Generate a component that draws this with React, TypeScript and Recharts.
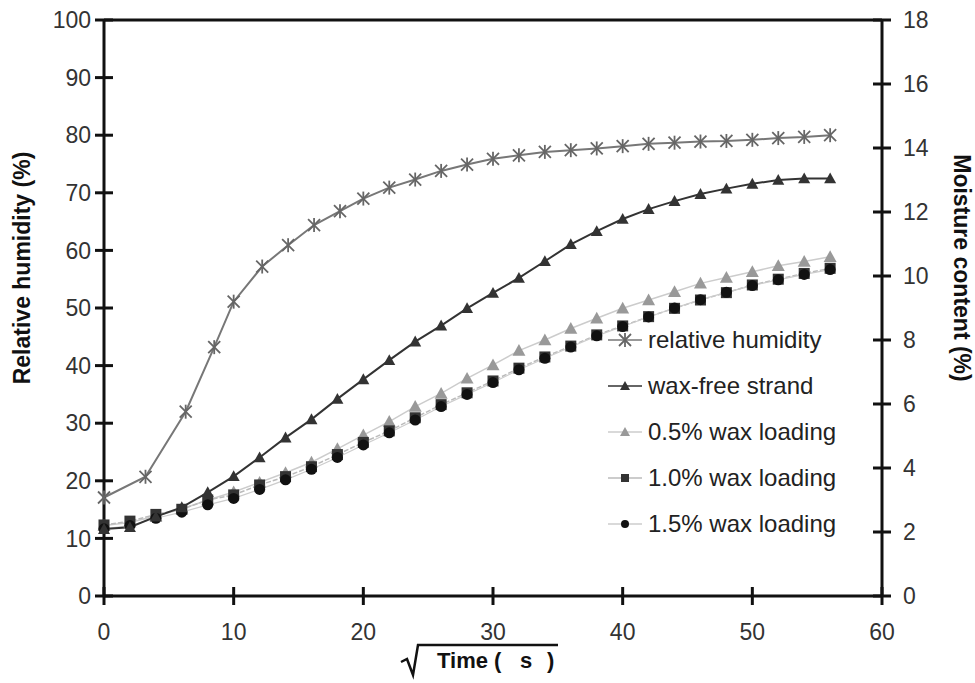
import { LineChart, Line, XAxis, YAxis, Legend, ReferenceLine } from "recharts"

// sqrt(time) for the humidity readings and for the moisture readings
const rhTime = [0, 3.2, 6.3, 8.5, 10, 12.2, 14.2, 16.2, 18.2, 20, 22, 24, 26, 28, 30, 32, 34, 36, 38, 40, 42, 44, 46, 48, 50, 52, 54, 56]
const rhValues = [17.1, 20.7, 32.0, 43.2, 51.1, 57.2, 60.9, 64.4, 66.8, 69.0, 70.9, 72.3, 73.8, 74.9, 75.9, 76.5, 77.1, 77.4, 77.7, 78.1, 78.5, 78.7, 78.9, 79.0, 79.2, 79.5, 79.7, 80.0]

const mcTime = [0, 2, 4, 6, 8, 10, 12, 14, 16, 18, 20, 22, 24, 26, 28, 30, 32, 34, 36, 38, 40, 42, 44, 46, 48, 50, 52, 54, 56]
const waxFree = [2.09, 2.15, 2.48, 2.77, 3.24, 3.74, 4.33, 4.95, 5.52, 6.16, 6.77, 7.37, 7.95, 8.45, 8.99, 9.47, 9.94, 10.46, 10.99, 11.4, 11.78, 12.09, 12.34, 12.56, 12.73, 12.88, 13.0, 13.05, 13.05]
const wax05 = [2.2, 2.3, 2.5, 2.72, 3.0, 3.25, 3.55, 3.85, 4.18, 4.6, 5.03, 5.45, 5.92, 6.33, 6.8, 7.22, 7.67, 8.0, 8.36, 8.68, 8.99, 9.25, 9.51, 9.77, 9.95, 10.13, 10.32, 10.45, 10.6]
const wax10 = [2.22, 2.34, 2.55, 2.71, 3.0, 3.16, 3.47, 3.73, 4.04, 4.42, 4.8, 5.16, 5.57, 5.98, 6.35, 6.72, 7.12, 7.47, 7.81, 8.16, 8.44, 8.73, 8.99, 9.25, 9.48, 9.72, 9.9, 10.08, 10.24]
const wax15 = [2.1, 2.2, 2.43, 2.62, 2.85, 3.05, 3.33, 3.63, 3.96, 4.33, 4.72, 5.1, 5.5, 5.92, 6.3, 6.67, 7.07, 7.43, 7.78, 8.13, 8.42, 8.72, 9.0, 9.26, 9.49, 9.7, 9.88, 10.05, 10.2]

const xTicks = [0, 10, 20, 30, 40, 50, 60]
const rhTicks = [0, 10, 20, 30, 40, 50, 60, 70, 80, 90, 100]
const mcTicks = [0, 2, 4, 6, 8, 10, 12, 14, 16, 18]

const rhData = rhTime.map((t, i) => ({ t, rh: rhValues[i] }))
const mcData = mcTime.map((t, i) => ({ t, waxFree: waxFree[i], wax05: wax05[i], wax10: wax10[i], wax15: wax15[i] }))

const FONT = "'Liberation Sans', Arial, sans-serif"
const AXIS = "#111"
const TS = 9
const TM = 6

const star = (cx: number, cy: number, key?: any) => (
  <g key={key} stroke="#666" strokeWidth={1.8}>
    <line x1={cx - 6} y1={cy - 6} x2={cx + 6} y2={cy + 6} />
    <line x1={cx - 6} y1={cy + 6} x2={cx + 6} y2={cy - 6} />
    <line x1={cx} y1={cy - 7} x2={cx} y2={cy + 7} />
  </g>
)
const tri = (cx: number, cy: number, fill: string, r: number, key?: any) => (
  <polygon key={key} points={`${cx},${cy - r} ${cx - r},${cy + r * 0.8} ${cx + r},${cy + r * 0.8}`} fill={fill} />
)
const square = (cx: number, cy: number, key?: any) => (
  <rect key={key} x={cx - 5.5} y={cy - 5.5} width={11} height={11} fill="#333" />
)
const circle = (cx: number, cy: number, key?: any) => <circle key={key} cx={cx} cy={cy} r={5.5} fill="#111" />

const legendRows = [
  { name: "relative humidity", line: "#777", mark: (x: number, y: number) => star(x, y) },
  { name: "wax-free strand", line: "#333", mark: (x: number, y: number) => tri(x, y, "#333", 5) },
  { name: "0.5% wax loading", line: "#ccc", mark: (x: number, y: number) => tri(x, y, "#999", 5) },
  { name: "1.0% wax loading", line: "#bbb", mark: (x: number, y: number) => <rect x={x - 4} y={y - 4} width={8} height={8} fill="#333" /> },
  { name: "1.5% wax loading", line: "#ccc", mark: (x: number, y: number) => <circle cx={x} cy={y} r={4} fill="#111" /> },
]

function LegendBox() {
  return (
    <div style={{ fontFamily: FONT }}>
      {legendRows.map((r) => (
        <div key={r.name} style={{ height: 46, display: "flex", alignItems: "center" }}>
          <svg width={44} height={20}>
            <line x1={4} x2={38} y1={10} y2={10} stroke={r.line} strokeWidth={1.5} />
            {r.mark(21, 10)}
          </svg>
          <span style={{ fontSize: 24, color: "#222", whiteSpace: "nowrap" }}>{r.name}</span>
        </div>
      ))}
    </div>
  )
}

function LeftTick({ x, y, payload }: any) {
  const ax = x + TS + TM
  return (
    <g>
      <line x1={ax - 9} x2={ax + 9} y1={y} y2={y} stroke={AXIS} strokeWidth={3} />
      <text x={ax - 13} y={y} dy="0.36em" textAnchor="end" fontSize={23} fill="#333" fontFamily={FONT}>{payload.value}</text>
    </g>
  )
}
function RightTick({ x, y, payload }: any) {
  const ax = x - TS - TM
  return (
    <g>
      <line x1={ax - 9} x2={ax + 9} y1={y} y2={y} stroke={AXIS} strokeWidth={3} />
      <text x={ax + 21} y={y} dy="0.36em" textAnchor="start" fontSize={23} fill="#333" fontFamily={FONT}>{payload.value}</text>
    </g>
  )
}
function BottomTick({ x, y, payload }: any) {
  const ay = y - TS - TM
  return (
    <g>
      <line x1={x} x2={x} y1={ay - 9} y2={ay + 9} stroke={AXIS} strokeWidth={3} />
      <text x={x} y={ay + 44} textAnchor="middle" fontSize={23} fill="#333" fontFamily={FONT}>{payload.value}</text>
    </g>
  )
}

function XTitle({ viewBox }: any) {
  const cx = viewBox.x + viewBox.width / 2
  const base = viewBox.y + 72
  return (
    <g fontFamily={FONT} fontWeight="bold" fontSize={22} fill="#111">
      <path d={`M ${cx - 92} ${base - 6} L ${cx - 86} ${base - 9} L ${cx - 80} ${base + 7} L ${cx - 75} ${base - 23} L ${cx + 65} ${base - 23}`} fill="none" stroke="#111" strokeWidth={2.5} />
      <text x={cx - 56} y={base}>Time (</text>
      <text x={cx + 27} y={base}>s</text>
      <text x={cx + 54} y={base}>)</text>
    </g>
  )
}
function LeftTitle({ viewBox }: any) {
  const cx = viewBox.x + 12
  const cy = 268
  return (
    <text x={cx} y={cy} transform={`rotate(-90, ${cx}, ${cy})`} textAnchor="middle" dominantBaseline="central" fontFamily={FONT} fontWeight="bold" fontSize={23} fill="#111">
      Relative humidity (%)
    </text>
  )
}
function RightTitle({ viewBox }: any) {
  const cx = viewBox.x + 80
  const cy = 268
  return (
    <text x={cx} y={cy} transform={`rotate(90, ${cx}, ${cy})`} textAnchor="middle" dominantBaseline="central" fontFamily={FONT} fontWeight="bold" fontSize={23} fill="#111">
      Moisture content (%)
    </text>
  )
}

export default function App() {
  return (
    <div style={{ position: "absolute", left: 0, top: 0, background: "#fff" }}>
      <LineChart width={975} height={683} margin={{ top: 20, right: 10, left: 10, bottom: 37 }}>
        <XAxis
          dataKey="t"
          type="number"
          domain={[0, 60]}
          ticks={xTicks}
          height={50}
          axisLine={{ stroke: AXIS, strokeWidth: 3 }}
          tickLine={false}
          tickSize={TS}
          tickMargin={TM}
          tick={<BottomTick />}
          label={{ content: XTitle }}
        />
        <YAxis
          yAxisId="left"
          domain={[0, 100]}
          ticks={rhTicks}
          width={94}
          axisLine={{ stroke: AXIS, strokeWidth: 3 }}
          tickLine={false}
          tickSize={TS}
          tickMargin={TM}
          tick={<LeftTick />}
          label={{ content: LeftTitle }}
        />
        <YAxis
          yAxisId="right"
          orientation="right"
          domain={[0, 18]}
          ticks={mcTicks}
          width={83}
          axisLine={{ stroke: AXIS, strokeWidth: 3 }}
          tickLine={false}
          tickSize={TS}
          tickMargin={TM}
          tick={<RightTick />}
          label={{ content: RightTitle }}
        />
        <ReferenceLine yAxisId="left" y={100} stroke={AXIS} strokeWidth={3} />
        <Line data={mcData} dataKey="wax05" yAxisId="right" type="linear" stroke="#ccc" strokeWidth={1.5}
          dot={(p: any) => tri(p.cx, p.cy, "#999", 6.5, p.index)} isAnimationActive={false} />
        <Line data={mcData} dataKey="wax10" yAxisId="right" type="linear" stroke="#bbb" strokeWidth={1.5} strokeDasharray="5 2"
          dot={(p: any) => square(p.cx, p.cy, p.index)} isAnimationActive={false} />
        <Line data={mcData} dataKey="wax15" yAxisId="right" type="linear" stroke="#ccc" strokeWidth={1.2}
          dot={(p: any) => circle(p.cx, p.cy, p.index)} isAnimationActive={false} />
        <Line data={mcData} dataKey="waxFree" yAxisId="right" type="linear" stroke="#333" strokeWidth={2}
          dot={(p: any) => tri(p.cx, p.cy, "#333", 6, p.index)} isAnimationActive={false} />
        <Line data={rhData} dataKey="rh" yAxisId="left" type="linear" stroke="#777" strokeWidth={2}
          dot={(p: any) => star(p.cx, p.cy, p.index)} isAnimationActive={false} />
        <Legend content={<LegendBox />} layout="vertical" align="center" verticalAlign="middle"
          wrapperStyle={{ left: 604, top: 317, width: 260 }} />
      </LineChart>
    </div>
  )
}
